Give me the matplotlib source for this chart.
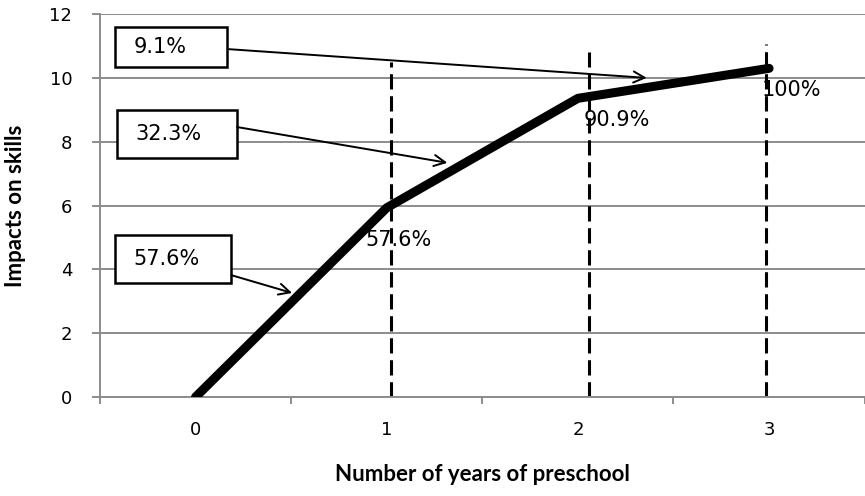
import matplotlib
matplotlib.use("Agg")
import matplotlib.pyplot as plt
from matplotlib.patches import Rectangle

plt.rcParams["font.family"] = ["DejaVu Sans"]

# cumulative impact by years of preschool
years = [0, 1, 2, 3]
impacts = [0, 5.93, 9.36, 10.3]
point_labels = ["", "57.6%", "90.9%", "100%"]
label_dx = [0, -0.11, 0.03, -0.04]
label_dy = [0, -1.0, -0.68, -0.68]

# marginal share boxes: (left, right, centre y) and arrow start / end
box_labels = ["9.1%", "32.3%", "57.6%"]
box_x = [(-0.421, 0.165), (-0.411, 0.217), (-0.421, 0.186)]
box_y = [10.97, 8.24, 4.33]
box_h = [1.25, 1.5, 1.5]
arrow_from = [(0.175, 10.9), (0.217, 8.46), (0.186, 3.82)]
arrow_to = [(2.36, 10.0), (1.317, 7.34), (0.505, 3.26)]

# dashed guides (x, top)
guides_x = [1.02, 2.06, 2.985]
guides_top = [10.5, 10.8, 11.05]

fig = plt.figure(figsize=(8.65, 4.96), dpi=100)
ax = fig.add_axes([0.1156, 0.1996, 0.884, 0.772])

ax.set_xlim(-0.5, 3.5)
ax.set_ylim(0, 12)
ax.set_yticks(range(0, 13, 2))
ax.set_xticks(years)
ax.set_xticks([-0.5, 0.5, 1.5, 2.5, 3.5], minor=True)

ax.grid(axis="y", color="#8c8c8c", linewidth=1.4)
ax.set_axisbelow(True)
for s in ["top", "right"]:
    ax.spines[s].set_visible(False)
for s in ["left", "bottom"]:
    ax.spines[s].set_color("#8c8c8c")
    ax.spines[s].set_linewidth(1.4)

ax.tick_params(axis="y", length=6, width=1.4, color="#8c8c8c", labelsize=13, pad=14)
ax.tick_params(axis="x", which="major", length=0, labelsize=13, pad=17)
ax.tick_params(axis="x", which="minor", length=5, width=1.4, color="#8c8c8c")
for lbl in ax.get_xticklabels() + ax.get_yticklabels():
    lbl.set_fontfamily("DejaVu Sans")

for gx, gt in zip(guides_x, guides_top):
    ax.plot([gx, gx], [0, gt], color="black", linestyle=(0, (5, 2.2)), linewidth=2.2, zorder=2)

ax.plot(years, impacts, color="black", linewidth=6.5, solid_capstyle="round",
        solid_joinstyle="round", zorder=4)

for x, y, t, dx, dy in zip(years, impacts, point_labels, label_dx, label_dy):
    if t:
        ax.text(x + dx, y + dy, t, fontsize=15, fontfamily="DejaVu Sans",
                va="center", ha="left", zorder=5)

for t, (x0, x1), yc, h, (sx, sy), (ex, ey) in zip(box_labels, box_x, box_y, box_h,
                                                   arrow_from, arrow_to):
    ax.add_patch(Rectangle((x0, yc - h / 2), x1 - x0, h, fc="white", ec="black",
                           lw=1.8, zorder=6))
    ax.text(x0 + 0.095, yc, t, fontsize=15, fontfamily="DejaVu Sans",
            va="center", ha="left", zorder=7)
    ax.annotate("", xy=(ex, ey), xytext=(sx, sy),
                arrowprops=dict(arrowstyle="->", color="black", lw=1.4,
                                shrinkA=0, shrinkB=0, mutation_scale=20),
                zorder=6)

ax.set_ylabel("Impacts on skills", fontsize=16, fontweight="bold", fontfamily="Lato", labelpad=17)
ax.set_xlabel("Number of years of preschool", fontsize=16, fontweight="bold", fontfamily="Lato", labelpad=18)

fig.savefig("out.png", dpi=100)
